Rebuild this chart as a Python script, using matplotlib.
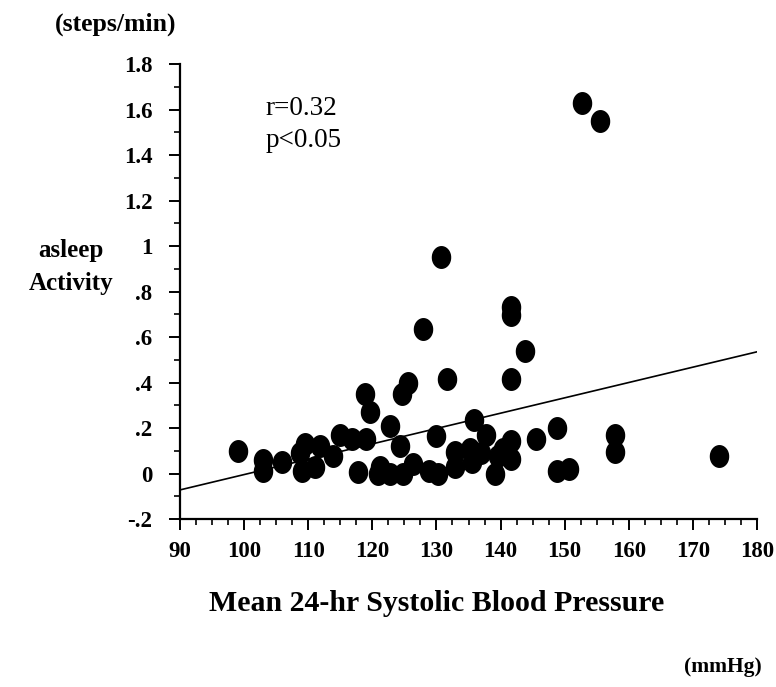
import numpy as np
import matplotlib
matplotlib.use("Agg")
import matplotlib.pyplot as plt
from matplotlib.path import Path
from matplotlib.ticker import MultipleLocator

# mean 24-hr systolic BP (mmHg) vs. asleep activity (steps/min)
sbp = [99.0, 103.0, 103.0, 105.9, 108.7, 109.5, 109.0, 111.8, 111.1, 113.9,
       115.0, 116.9, 119.0, 117.7, 118.9, 119.6, 122.8, 124.3, 121.2, 120.9,
       122.8, 124.8, 126.3, 128.8, 130.2, 124.6, 125.6, 127.9, 130.7, 131.6,
       129.9, 132.9, 132.9, 135.2, 135.5, 135.8, 137.0, 137.8, 139.1, 139.6,
       140.4, 141.6, 141.6, 141.6, 141.6, 141.6, 143.8, 145.6, 148.8, 148.8,
       150.6, 152.7, 155.5, 157.8, 157.8, 174.0]
activity = [0.10, 0.06, 0.01, 0.05, 0.09, 0.13, 0.01, 0.12, 0.03, 0.075,
            0.17, 0.15, 0.15, 0.005, 0.35, 0.27, 0.21, 0.12, 0.03, 0.0,
            0.0, 0.0, 0.04, 0.01, 0.0, 0.35, 0.40, 0.635, 0.95, 0.415,
            0.165, 0.095, 0.03, 0.11, 0.05, 0.235, 0.09, 0.17, 0.0, 0.075,
            0.11, 0.145, 0.065, 0.415, 0.73, 0.695, 0.54, 0.15, 0.20, 0.01,
            0.02, 1.63, 1.55, 0.17, 0.095, 0.075]

# regression line end points
fit_x = [90, 180]
fit_y = [-0.072, 0.535]

ytick_vals = [-0.2, 0, 0.2, 0.4, 0.6, 0.8, 1.0, 1.2, 1.4, 1.6, 1.8]
ytick_labels = ["-.2", "0", ".2", ".4", ".6", ".8", "1", "1.2", "1.4", "1.6", "1.8"]
xtick_vals = [90, 100, 110, 120, 130, 140, 150, 160, 170, 180]

plt.rcParams['font.family'] = ['Liberation Serif', 'DejaVu Serif']

fig = plt.figure(figsize=(7.76, 6.87), dpi=100)
ax = fig.add_axes([0.232, 0.2445, 0.7435, 0.6623])

# slightly tall ellipse marker
t = np.linspace(0, 2 * np.pi, 60)
ell = Path(np.column_stack([0.84 * np.cos(t), np.sin(t)]))

ax.plot(fit_x, fit_y, color="black", lw=1.2, zorder=2)
ax.plot(sbp, activity, linestyle="none", marker=ell, markersize=15.5,
        color="black", zorder=3)

ax.set_xlim(90, 180)
ax.set_ylim(-0.2, 1.8)
for s in ["top", "right"]:
    ax.spines[s].set_visible(False)
for s in ["left", "bottom"]:
    ax.spines[s].set_linewidth(1.6)

ax.set_xticks(xtick_vals)
ax.set_xticklabels([str(v) for v in xtick_vals])
ax.set_yticks(ytick_vals)
ax.set_yticklabels(ytick_labels)
ax.xaxis.set_minor_locator(MultipleLocator(2.5))
ax.yaxis.set_minor_locator(MultipleLocator(0.1))
ax.tick_params(which="major", direction="out", length=8, width=1.4,
               labelsize=16.5)
ax.tick_params(which="minor", direction="out", length=4, width=1.2)
ax.tick_params(axis="x", which="major", pad=8)
ax.tick_params(axis="y", which="major", pad=12)
for lab in ax.get_xticklabels() + ax.get_yticklabels():
    lab.set_fontweight("bold")

ax.text(103.3, 1.576, "r=0.32", ha="left", va="baseline", fontsize=19.5)
ax.text(103.3, 1.435, "p<0.05", ha="left", va="baseline", fontsize=19.5)

fig.text(0.1495, 0.964, "(steps/min)", ha="center", va="center",
         fontsize=18.5, fontweight="bold")
fig.text(0.092, 0.636, "asleep", ha="center", va="center",
         fontsize=18, fontweight="bold")
fig.text(0.092, 0.587, "Activity", ha="center", va="center",
         fontsize=18, fontweight="bold")
fig.text(0.563, 0.122, "Mean 24-hr Systolic Blood Pressure", ha="center",
         va="center", fontsize=21.5, fontweight="bold")
fig.text(0.932, 0.029, "(mmHg)", ha="center", va="center",
         fontsize=15.5, fontweight="bold")

fig.savefig("out.png", dpi=100)
